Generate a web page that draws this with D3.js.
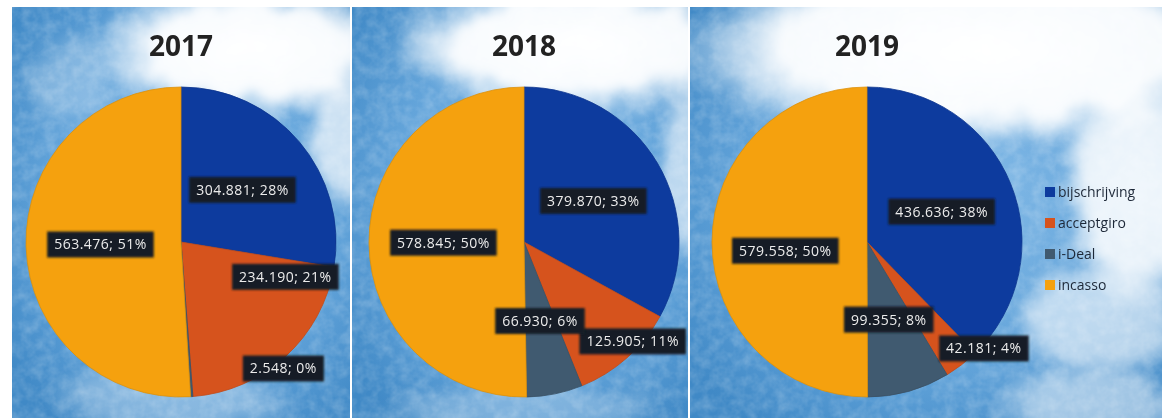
<!DOCTYPE html>
<html>
<head>
<meta charset="utf-8">
<script src="https://cdn.jsdelivr.net/npm/d3@7"></script>
<style>
  body { margin: 0; background: #fff; }
  svg { display: block; }
</style>
</head>
<body>
<script>

// ---- data ----
var years = ["2017", "2018", "2019"];
var categories = ["bijschrijving", "acceptgiro", "i-Deal", "incasso"];
var values2017 = [304881, 234190, 2548, 563476];
var values2018 = [379870, 125905, 66930, 578845];
var values2019 = [436636, 42181, 99355, 579558];
// percentages as printed on the chart
var percents2017 = [28, 21, 0, 51];
var percents2018 = [33, 11, 6, 50];
var percents2019 = [38, 4, 8, 50];

var valuesByYear = [values2017, values2018, values2019];
var percentsByYear = [percents2017, percents2018, percents2019];

var width = 1162,
    height = 418,
    radius = 155,
    cy = 242;

var color = d3.scaleOrdinal()
    .domain(categories)
    .range(["#0d3b9e", "#d6531d", "#405a70", "#f5a10e"]);

// pie centres across the page
var xPie = d3.scalePoint().domain(years).range([181, 867]);

// panels behind each pie (photo-like sky)
var panels = [[12, 350], [352, 688], [690, 1162]];

// white cloud blobs per panel: [panel, cx, cy, rx, ry, opacity]
var clouds = [
  [0, 250, 50, 160, 70, 1], [0, 345, 140, 40, 70, 0.7], [0, 170, 400, 130, 40, 0.3],
  [0, 70, 80, 50, 50, 0.25],
  [1, 580, 45, 190, 70, 1], [1, 695, 170, 40, 100, 0.6],
  [1, 520, 410, 150, 30, 0.25],
  [2, 980, 50, 310, 100, 1], [2, 1140, 190, 80, 120, 0.9], [2, 1100, 320, 90, 60, 0.6],
  [2, 1090, 405, 100, 40, 0.5]
];

// manual nudges for labels that Excel pushed out (best-fit placement)
var labelTweak = {
  "2017|acceptgiro": { r: 0.71, da: -29 },
  "2017|i-Deal": { r: 1.05, da: -35 },
  "2018|acceptgiro": { r: 0.95, da: -6 },
  "2019|acceptgiro": { r: 1.02, da: -10 },
  "2019|incasso": { r: 0.53, da: -6 }
};

var nl = d3.formatLocale({ decimal: ",", thousands: ".", grouping: [3], currency: ["€", ""] });
var fmt = nl.format(",d");

var svg = d3.select("body").append("svg")
    .attr("width", width)
    .attr("height", height);

var defs = svg.append("defs");

var bg = defs.append("radialGradient").attr("id", "skyGrad")
    .attr("cx", "55%").attr("cy", "45%").attr("r", "70%");
bg.append("stop").attr("offset", "0%").attr("stop-color", "#86bce8");
bg.append("stop").attr("offset", "60%").attr("stop-color", "#63a4da");
bg.append("stop").attr("offset", "100%").attr("stop-color", "#4089c6");

var cg = defs.append("radialGradient").attr("id", "cloudGrad");
cg.append("stop").attr("offset", "0%").attr("stop-color", "#ffffff").attr("stop-opacity", 1);
cg.append("stop").attr("offset", "65%").attr("stop-color", "#ffffff").attr("stop-opacity", 0.95);
cg.append("stop").attr("offset", "100%").attr("stop-color", "#ffffff").attr("stop-opacity", 0);

var cf = defs.append("filter").attr("id", "cloudy")
    .attr("x", "-30%").attr("y", "-30%").attr("width", "160%").attr("height", "160%");
cf.append("feTurbulence").attr("type", "fractalNoise").attr("baseFrequency", 0.03)
    .attr("numOctaves", 3).attr("seed", 5).attr("result", "noise");
cf.append("feDisplacementMap").attr("in", "SourceGraphic").attr("in2", "noise")
    .attr("scale", 30).attr("xChannelSelector", "R").attr("yChannelSelector", "G");
cf.append("feGaussianBlur").attr("stdDeviation", 4);

var mf = defs.append("filter").attr("id", "mottle")
    .attr("x", 0).attr("y", 0).attr("width", "100%").attr("height", "100%");
mf.append("feTurbulence").attr("type", "fractalNoise").attr("baseFrequency", 0.09)
    .attr("numOctaves", 3).attr("seed", 2);
mf.append("feColorMatrix").attr("type", "matrix")
    .attr("values", "0 0 0 0 1  0 0 0 0 1  0 0 0 0 1  0 0 0 1.2 -0.4");

var lf = defs.append("filter").attr("id", "labelShadow")
    .attr("x", "-20%").attr("y", "-40%").attr("width", "140%").attr("height", "180%");
lf.append("feGaussianBlur").attr("stdDeviation", 1.2);

panels.forEach(function(p, i) {
  defs.append("clipPath").attr("id", "clip" + i)
    .append("rect").attr("x", p[0]).attr("y", 7)
    .attr("width", p[1] - p[0]).attr("height", height - 7);
});

// ---- backgrounds ----
var bgLayer = svg.append("g");
panels.forEach(function(p, i) {
  var g = bgLayer.append("g").attr("clip-path", "url(#clip" + i + ")");
  g.append("rect").attr("x", p[0]).attr("y", 7)
      .attr("width", p[1] - p[0]).attr("height", height - 7)
      .attr("fill", "url(#skyGrad)");
  g.append("rect").attr("x", p[0]).attr("y", 7)
      .attr("width", p[1] - p[0]).attr("height", height - 7)
      .attr("filter", "url(#mottle)").attr("opacity", 0.3);
  g.append("g").attr("filter", "url(#cloudy)")
    .selectAll("ellipse")
    .data(clouds.filter(function(c) { return c[0] === i; }))
    .enter().append("ellipse")
      .attr("cx", function(c) { return c[1]; })
      .attr("cy", function(c) { return c[2]; })
      .attr("rx", function(c) { return c[3]; })
      .attr("ry", function(c) { return c[4]; })
      .attr("fill", "url(#cloudGrad)")
      .attr("opacity", function(c) { return c[5]; });
});

// ---- pies ----
var pie = d3.pie().sort(null).value(function(d) { return d.value; });
var arc = d3.arc().innerRadius(0).outerRadius(radius);

years.forEach(function(year, yi) {
  var rows = categories.map(function(c, ci) {
    return { year: year, category: c, value: valuesByYear[yi][ci], pct: percentsByYear[yi][ci] };
  });
  var arcs = pie(rows);

  var g = svg.append("g")
      .attr("transform", "translate(" + xPie(year) + "," + cy + ")");

  g.selectAll("path.slice")
    .data(arcs)
    .enter().append("path")
      .attr("class", "slice")
      .attr("d", arc)
      .attr("fill", function(d) { return color(d.data.category); })
      .attr("stroke", function(d) { return d3.color(color(d.data.category)).darker(0.3); })
      .attr("stroke-width", 0.8);

  svg.append("text")
      .attr("x", xPie(year))
      .attr("y", 56)
      .attr("text-anchor", "middle")
      .attr("font-family", "'Open Sans', sans-serif")
      .attr("font-weight", 700)
      .attr("font-size", 28)
      .attr("fill", "#222")
      .text(year);

  // data labels
  var labels = g.selectAll("g.label")
    .data(arcs)
    .enter().append("g")
      .attr("class", "label")
      .attr("transform", function(d) {
        var t = labelTweak[year + "|" + d.data.category] || { r: 0.52, da: 0 };
        var a = (d.startAngle + d.endAngle) / 2 + t.da * Math.PI / 180;
        var rr = radius * t.r;
        return "translate(" + (Math.sin(a) * rr) + "," + (-Math.cos(a) * rr) + ")";
      });

  labels.append("text")
      .attr("text-anchor", "middle")
      .attr("dy", "0.35em")
      .attr("font-family", "'Open Sans', sans-serif")
      .attr("font-size", 14)
      .attr("letter-spacing", 0.5)
      .attr("fill", "#ececec")
      .text(function(d) { return fmt(d.data.value) + "; " + d.data.pct + "%"; });

  labels.each(function() {
    var l = d3.select(this);
    var w = l.select("text").node().getComputedTextLength() + 14;
    l.insert("rect", "text")
      .attr("x", -w / 2).attr("y", -13)
      .attr("width", w).attr("height", 26)
      .attr("fill", "#151e26")
      .attr("filter", "url(#labelShadow)");
  });
});

// ---- legend ----
var legend = svg.append("g").attr("transform", "translate(1045,192)");
var items = legend.selectAll("g")
  .data(categories)
  .enter().append("g")
    .attr("transform", function(d, i) { return "translate(0," + (i * 31) + ")"; });
items.append("rect")
    .attr("x", 0).attr("y", -5)
    .attr("width", 10).attr("height", 10)
    .attr("fill", color);
items.append("text")
    .attr("x", 13)
    .attr("dy", "0.35em")
    .attr("font-family", "'Open Sans', sans-serif")
    .attr("font-size", 14)
    .attr("fill", "#1d2838")
    .text(function(d) { return d; });

</script>
</body>
</html>
